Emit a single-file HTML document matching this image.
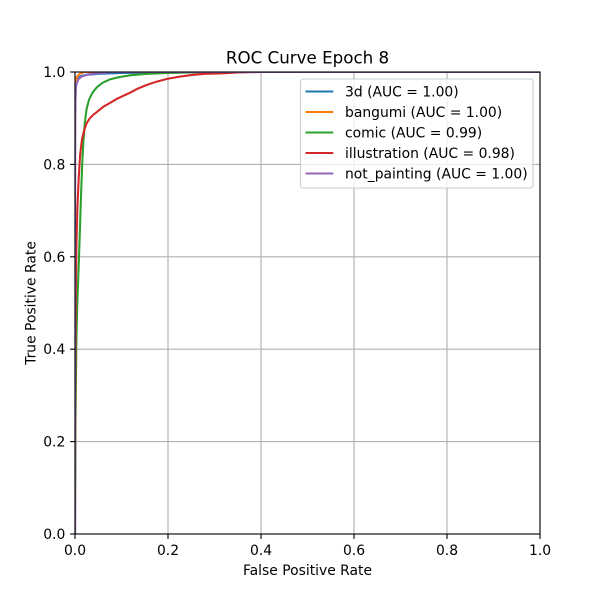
<!DOCTYPE html>
<html><head><meta charset="utf-8"><style>
html,body{margin:0;padding:0;background:#fff;}
svg{display:block;}
text{font-family:"DejaVu Sans","Liberation Sans",sans-serif;fill:#000;}
</style></head><body>
<svg width="600" height="600" viewBox="0 0 600 600" xmlns="http://www.w3.org/2000/svg">
<defs><clipPath id="ax"><rect x="75" y="72" width="465" height="462"/></clipPath></defs>
<rect width="600" height="600" fill="#fff"/>
<!-- grid -->
<g stroke="#b0b0b0" stroke-width="1.11">
<line x1="75" y1="72" x2="75" y2="534"/><line x1="168" y1="72" x2="168" y2="534"/><line x1="261" y1="72" x2="261" y2="534"/><line x1="354" y1="72" x2="354" y2="534"/><line x1="447" y1="72" x2="447" y2="534"/><line x1="540" y1="72" x2="540" y2="534"/>
<line x1="75" y1="534" x2="540" y2="534"/><line x1="75" y1="441.6" x2="540" y2="441.6"/><line x1="75" y1="349.2" x2="540" y2="349.2"/><line x1="75" y1="256.8" x2="540" y2="256.8"/><line x1="75" y1="164.4" x2="540" y2="164.4"/><line x1="75" y1="72" x2="540" y2="72"/>
</g>
<!-- curves -->
<g clip-path="url(#ax)" fill="none" stroke-width="2.08" stroke-linejoin="round" stroke-linecap="square">
<path stroke="#1f77b4" d="M75,534 L75,164.4 L75.2,95.1 L75.9,83.6 L77.3,78.9 L80.6,76.2 L86.6,74.8 L98.3,73.8 L121.5,72.9 L160,72.4 L200.6,72 L540,72"/>
<path stroke="#ff7f0e" d="M75,534 L75,141.3 L75.2,90.5 L75.7,81.2 L76.9,76.6 L79.7,73.8 L84.3,72 L540,72"/>
<path stroke="#2ca02c" d="M75,534 L75.5,418.5 L76.4,340 L77.3,303 L78.7,266 L80.1,224.5 L81.3,187.5 L82.4,159.8 L83.4,141.3 L84.8,122.8 L86.6,109 L89,99.7 L92.7,92.3 L97.3,86.8 L102.9,82.6 L109.9,79.4 L119.2,77.1 L130.8,75.2 L147.1,73.8 L168,72.9 L214.5,72 L540,72"/>
<path stroke="#d62728" d="M75,534 L75.2,395.4 L75.7,303 L76.4,247.6 L77.3,210.6 L78.7,178.3 L80.1,155.2 L82,139 L84.3,129.8 L86.6,123.3 L89.9,118.2 L93.1,115 L98.3,110.8 L103.4,106.7 L109.9,103 L116.9,98.8 L123.8,95.6 L129.9,92.8 L137.8,88.6 L146.6,85 L156.4,81.7 L166.6,79 L179.6,76.6 L193.1,74.8 L205.2,73.8 L220.1,73.4 L237.8,72.5 L261,72 L540,72"/>
<path stroke="#9467bd" d="M75,534 L75,256.8 L75.2,118.2 L75.5,99.7 L75.9,88.2 L76.4,84.5 L78.3,79.4 L81.5,76.6 L89,74.2 L98.3,73.1 L112.2,72 L540,72"/>
</g>
<!-- spines -->
<rect x="75" y="72" width="465" height="462" fill="none" stroke="#000" stroke-width="1.11"/>
<!-- ticks -->
<g stroke="#000" stroke-width="1.11">
<line x1="75" y1="534" x2="75" y2="538.9"/><line x1="168" y1="534" x2="168" y2="538.9"/><line x1="261" y1="534" x2="261" y2="538.9"/><line x1="354" y1="534" x2="354" y2="538.9"/><line x1="447" y1="534" x2="447" y2="538.9"/><line x1="540" y1="534" x2="540" y2="538.9"/>
<line x1="70.1" y1="534" x2="75" y2="534"/><line x1="70.1" y1="441.6" x2="75" y2="441.6"/><line x1="70.1" y1="349.2" x2="75" y2="349.2"/><line x1="70.1" y1="256.8" x2="75" y2="256.8"/><line x1="70.1" y1="164.4" x2="75" y2="164.4"/><line x1="70.1" y1="72" x2="75" y2="72"/>
</g>
<g font-size="13.9" text-anchor="middle">
<text x="75" y="555">0.0</text><text x="168" y="555">0.2</text><text x="261" y="555">0.4</text><text x="354" y="555">0.6</text><text x="447" y="555">0.8</text><text x="540" y="555">1.0</text>
</g>
<g font-size="13.9" text-anchor="end">
<text x="65.3" y="539">0.0</text><text x="65.3" y="446.6">0.2</text><text x="65.3" y="354.2">0.4</text><text x="65.3" y="261.8">0.6</text><text x="65.3" y="169.4">0.8</text><text x="65.3" y="77">1.0</text>
</g>
<text x="307.5" y="575" font-size="13.9" text-anchor="middle">False Positive Rate</text>
<text x="0" y="0" font-size="13.9" text-anchor="middle" transform="translate(35.5,303) rotate(-90)">True Positive Rate</text>
<text x="307.5" y="63.7" font-size="16.7" text-anchor="middle">ROC Curve Epoch 8</text>
<!-- legend -->
<rect x="300.5" y="79" width="232.5" height="109" rx="2.5" ry="2.5" fill="#fff" fill-opacity="0.8" stroke="#cccccc" stroke-width="1.11"/>
<g stroke-width="2.08">
<line x1="305.5" y1="91.5" x2="333.3" y2="91.5" stroke="#1f77b4"/>
<line x1="305.5" y1="112" x2="333.3" y2="112" stroke="#ff7f0e"/>
<line x1="305.5" y1="132.5" x2="333.3" y2="132.5" stroke="#2ca02c"/>
<line x1="305.5" y1="153" x2="333.3" y2="153" stroke="#d62728"/>
<line x1="305.5" y1="173.5" x2="333.3" y2="173.5" stroke="#9467bd"/>
</g>
<g font-size="13.9">
<text x="345" y="96.3">3d (AUC = 1.00)</text>
<text x="345" y="116.8">bangumi (AUC = 1.00)</text>
<text x="345" y="137.3">comic (AUC = 0.99)</text>
<text x="345" y="157.8">illustration (AUC = 0.98)</text>
<text x="345" y="178.3">not_painting (AUC = 1.00)</text>
</g>
</svg>
</body></html>
